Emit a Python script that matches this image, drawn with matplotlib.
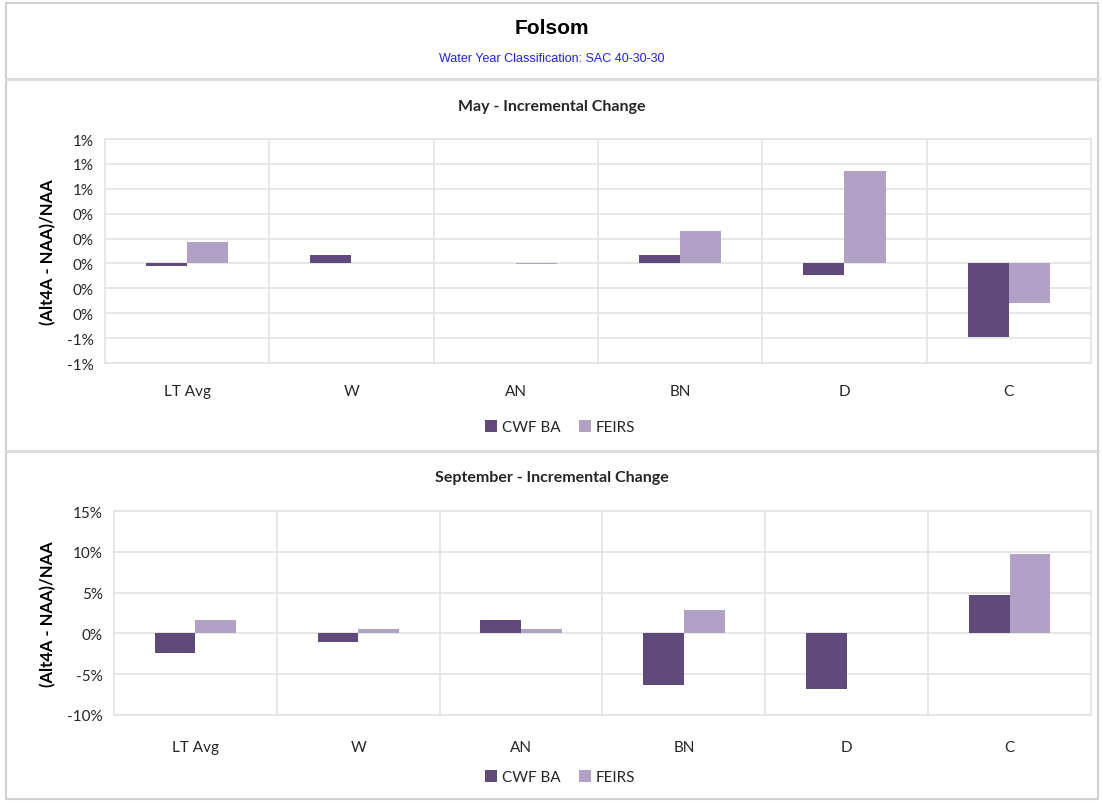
import matplotlib.pyplot as plt
import numpy as np
from matplotlib.lines import Line2D
from matplotlib.patches import Rectangle
from matplotlib.ticker import FixedLocator, FuncFormatter

# water year types
categories = ['LT Avg', 'W', 'AN', 'BN', 'D', 'C']
series_names = ['CWF BA', 'FEIRS']

# May incremental change, (Alt4A - NAA)/NAA in percent
may_cwf = [-0.02, 0.07, 0.005, 0.065, -0.095, -0.59]
may_feirs = [0.175, 0.005, -0.005, 0.26, 0.74, -0.32]
may_ticks = [-0.8, -0.6, -0.4, -0.2, 0.0, 0.2, 0.4, 0.6, 0.8, 1.0]

# September incremental change
sep_cwf = [-2.4, -1.0, 1.6, -6.3, -6.8, 4.7]
sep_feirs = [1.6, 0.6, 0.6, 2.9, 0.1, 9.7]
sep_ticks = [-10, -5, 0, 5, 10, 15]

dark = '#5F4A7B'
light = '#B2A1C7'
grid_c = '#E3E3E3'
txt_font = ['Lato', 'DejaVu Sans']

W, H = 1102, 803
fig = plt.figure(figsize=(W / 100, H / 100), dpi=100)
fig.patch.set_facecolor('white')


def px_axes(x0, y0, x1, y1):
    # pixel box (top-left origin) -> figure axes
    return fig.add_axes([x0 / W, 1 - y1 / H, (x1 - x0) / W, (y1 - y0) / H])


# outer frame and separators
fig.add_artist(Rectangle((6 / W, 1 - 800 / H), 1092 / W, 796 / H, transform=fig.transFigure,
                         fill=False, edgecolor='#D0D0D0', linewidth=1.5))
for yy in (80, 452):
    fig.add_artist(Line2D([6 / W, 1098 / W], [1 - yy / H] * 2, transform=fig.transFigure,
                          color='#D9D9D9', linewidth=2))

fig.text(552 / W, 1 - 29 / H, 'Folsom', ha='center', va='center', fontsize=15,
         fontweight='bold', family='Liberation Sans')
fig.text(552 / W, 1 - 59 / H, 'Water Year Classification: SAC 40-30-30', ha='center',
         va='center', fontsize=9, color='#1F1FFF', family='Liberation Sans')


def draw_panel(box, cwf, feirs, ticks, fmt, title, title_y, legend_y, xpad):
    ax = px_axes(*box)
    x = np.arange(len(categories))
    w = 0.25
    ax.bar(x - w / 2, cwf, w, color=dark, label=series_names[0], zorder=3)
    ax.bar(x + w / 2, feirs, w, color=light, label=series_names[1], zorder=3)
    ax.set_xlim(-0.5, len(categories) - 0.5)
    ax.set_ylim(ticks[0], ticks[-1])
    ax.yaxis.set_major_locator(FixedLocator(ticks))
    ax.yaxis.set_major_formatter(FuncFormatter(fmt))
    ax.set_xticks(x)
    ax.set_xticklabels(categories)
    ax.xaxis.set_minor_locator(FixedLocator(np.arange(0.5, len(categories) - 1, 1)))
    ax.grid(True, which='major', axis='y', color=grid_c, linewidth=1.2, zorder=0)
    ax.grid(True, which='minor', axis='x', color=grid_c, linewidth=1.2, zorder=0)
    for s in ax.spines.values():
        s.set_color(grid_c)
        s.set_linewidth(1.2)
    ax.tick_params(which='both', length=0)
    ax.tick_params(axis='x', pad=xpad, labelsize=11)
    ax.tick_params(axis='y', pad=8, labelsize=11)
    for lab in ax.get_xticklabels() + ax.get_yticklabels():
        lab.set_family(txt_font)
        lab.set_color('#262626')
    ax.set_ylabel('(Alt4A - NAA)/NAA', fontsize=12, fontweight='bold', family=txt_font,
                  labelpad=8)
    fig.text(552 / W, 1 - title_y / H, title, ha='center', va='center', fontsize=11.5,
             fontweight='bold', family=txt_font, color='#262626')
    leg = ax.legend(loc='center', bbox_to_anchor=(560 / W, 1 - legend_y / H),
                    bbox_transform=fig.transFigure, ncol=2, frameon=False,
                    handlelength=0.8, handleheight=0.8, handletextpad=0.3,
                    columnspacing=1.2, prop={'family': txt_font, 'size': 11})
    for t in leg.get_texts():
        t.set_color('#262626')
    return ax


draw_panel((105, 140, 1091, 364), may_cwf, may_feirs, may_ticks,
           lambda v, p: f'{round(v):.0f}%' if round(v) != 0 else '0%',
           'May - Incremental Change', 107, 428, 15)
draw_panel((114, 512, 1091, 716), sep_cwf, sep_feirs, sep_ticks,
           lambda v, p: f'{v:.0f}%',
           'September - Incremental Change', 478, 778, 18)

fig.savefig('out.png', dpi=100)
